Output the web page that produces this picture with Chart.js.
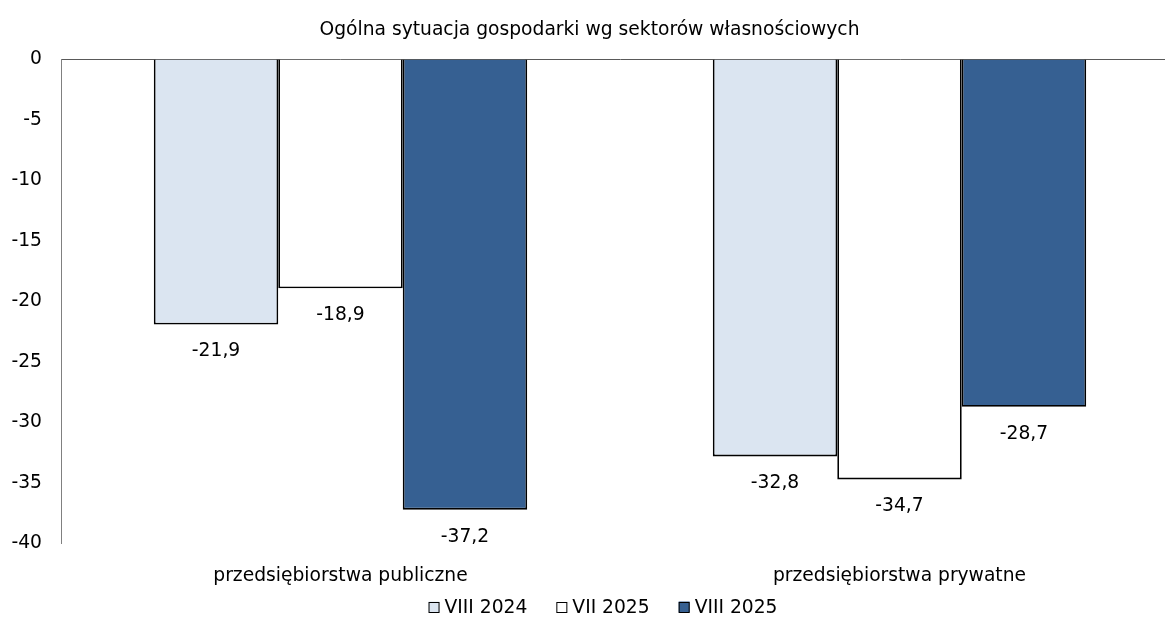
<!DOCTYPE html>
<html>
<head>
<meta charset="utf-8">
<script src="https://cdn.jsdelivr.net/npm/chart.js@4/dist/chart.umd.min.js"></script>
<style>
  html, body { margin: 0; padding: 0; background: #fff; overflow: hidden; }
  #wrap { width: 1165px; height: 620px; position: relative; overflow: hidden; }
  canvas { display: block; }
</style>
</head>
<body>
<div id="wrap"><canvas id="c" width="1236" height="620"></canvas></div>
<script>
const categories = ['przedsiębiorstwa publiczne', 'przedsiębiorstwa prywatne'];
const seriesNames = ['VIII 2024', 'VII 2025', 'VIII 2025'];
const viii2024 = [-21.9, -32.8];
const vii2025 = [-18.9, -34.7];
const viii2025 = [-37.2, -28.7];
const yTicks = [0, -5, -10, -15, -20, -25, -30, -35, -40];

const FONT = '"DejaVu Sans", Verdana, sans-serif';
const FS = 18.7;
const fills = ['#dbe5f1', '#ffffff', '#366092'];

// value labels under the end of each bar
const valueLabels = {
  id: 'valueLabels',
  afterDatasetsDraw(chart) {
    const ctx = chart.ctx;
    ctx.save();
    ctx.font = FS + 'px ' + FONT;
    ctx.fillStyle = '#000';
    ctx.textAlign = 'center';
    ctx.textBaseline = 'middle';
    chart.data.datasets.forEach((ds, i) => {
      chart.getDatasetMeta(i).data.forEach((bar, j) => {
        const txt = ds.data[j].toFixed(1).replace('.', ',');
        ctx.fillText(txt, bar.x, bar.y + 27);
      });
    });
    ctx.restore();
  }
};

// legend row: small bordered squares with the series names
const bottomLegend = {
  id: 'bottomLegend',
  afterDraw(chart) {
    const ctx = chart.ctx;
    const box = 11, gapText = 5, gapItem = 29;
    ctx.save();
    ctx.font = FS + 'px ' + FONT;
    const widths = chart.data.datasets.map(ds => box + gapText + ctx.measureText(ds.label).width);
    const total = widths.reduce((a, b) => a + b, 0) + gapItem * (widths.length - 1);
    const cx = (chart.chartArea.left + chart.chartArea.right) / 2 - 17;
    let x = cx - total / 2;
    const y = 607;
    ctx.textBaseline = 'middle';
    ctx.textAlign = 'left';
    chart.data.datasets.forEach((ds, i) => {
      ctx.fillStyle = ds.backgroundColor;
      ctx.fillRect(x, y - box / 2, box, box);
      ctx.strokeStyle = '#000';
      ctx.lineWidth = 1;
      ctx.strokeRect(x + 0.5, Math.round(y - box / 2) + 0.5, box - 1, box - 1);
      ctx.fillStyle = '#000';
      ctx.fillText(ds.label, x + box + gapText, y + 1);
      x += widths[i] + gapItem;
    });
    ctx.restore();
  }
};

new Chart(document.getElementById('c'), {
  type: 'bar',
  data: {
    labels: categories,
    datasets: [viii2024, vii2025, viii2025].map((d, i) => ({
      label: seriesNames[i],
      data: d,
      backgroundColor: fills[i],
      borderColor: '#000',
      borderWidth: 1.8,
      borderSkipped: 'start',
      categoryPercentage: 0.668,
      barPercentage: 1
    }))
  },
  options: {
    responsive: false,
    animation: false,
    layout: { padding: { left: 0, right: 57, top: 0, bottom: 12 } },
    plugins: {
      title: {
        display: true,
        text: 'Ogólna sytuacja gospodarki wg sektorów własnościowych',
        color: '#000',
        font: { family: FONT, size: FS, weight: 'normal' },
        padding: { top: 19, bottom: 18 }
      },
      legend: { display: false },
      tooltip: { enabled: false }
    },
    scales: {
      x: {
        position: 'top',
        grid: { display: false, drawTicks: false },
        border: { color: '#595959', width: 1 },
        ticks: { display: false }
      },
      x2: {
        type: 'category',
        labels: categories,
        position: 'bottom',
        grid: { display: false, drawTicks: false },
        border: { display: false },
        ticks: { color: '#000', font: { family: FONT, size: FS }, padding: 21 }
      },
      y: {
        min: -40,
        max: 0,
        grid: { display: false, drawTicks: false },
        border: { color: '#808080', width: 1 },
        afterBuildTicks(axis) { axis.ticks = yTicks.map(v => ({ value: v })); },
        afterFit(axis) { axis.width = 61; },
        ticks: {
          color: '#000',
          font: { family: FONT, size: FS },
          padding: 19,
          callback: v => String(v)
        }
      }
    }
  },
  plugins: [valueLabels, bottomLegend]
});
</script>
</body>
</html>
